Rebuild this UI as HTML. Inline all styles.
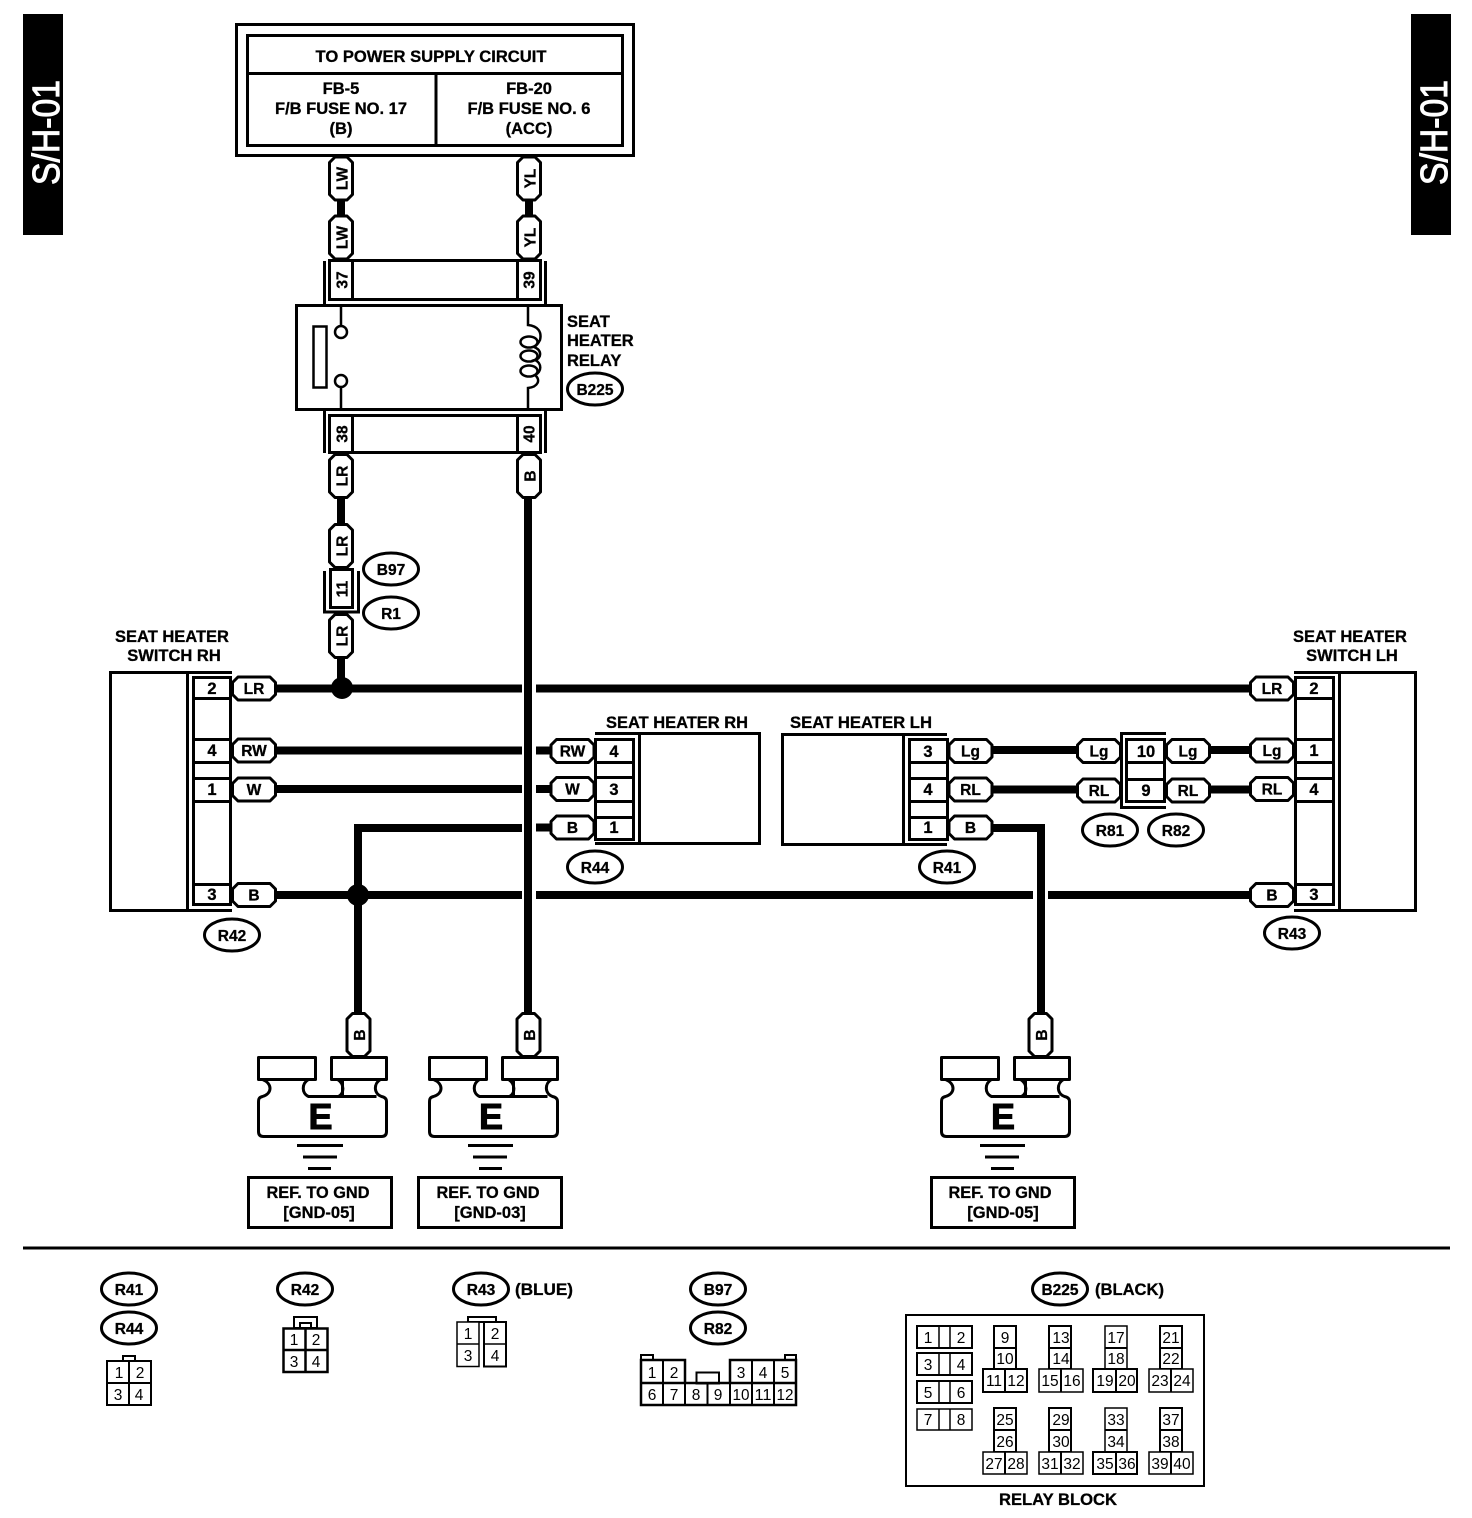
<!DOCTYPE html>
<html><head><meta charset="utf-8"><title>S/H-01</title>
<style>
html,body{margin:0;padding:0;background:#fff}
svg{display:block}
text{font-family:"Liberation Sans",sans-serif;fill:#000}
.t{font-weight:bold;font-size:16.5px;text-anchor:middle;stroke:#000;stroke-width:.3px}
.l{font-weight:bold;font-size:16.5px;stroke:#000;stroke-width:.3px}
.o{font-weight:bold;font-size:15.5px;text-anchor:middle;stroke:#000;stroke-width:.3px}
.n{font-size:15.5px;text-anchor:middle}
.s{fill:none;stroke:#000;stroke-width:3}
.f{fill:#fff;stroke:#000;stroke-width:3}
.g{fill:#fff;stroke:#000;stroke-width:2}
.h{fill:#fff;stroke:#000;stroke-width:1.5}
.w{fill:none;stroke:#000;stroke-width:8}
</style></head><body>
<svg width="1472" height="1518" viewBox="0 0 1472 1518" xmlns="http://www.w3.org/2000/svg">
<defs>
<polygon id="ph" points="-16,-11.5 16,-11.5 21.5,-6 21.5,6 16,11.5 -16,11.5 -21.5,6 -21.5,-6" fill="#fff" stroke="#000" stroke-width="3" stroke-linejoin="round"/>
<polygon id="pv" points="-11.5,-16 -6,-21.5 6,-21.5 11.5,-16 11.5,16 6,21.5 -6,21.5 -11.5,16" fill="#fff" stroke="#000" stroke-width="3" stroke-linejoin="round"/>
<ellipse id="ov" rx="27.5" ry="16" fill="#fff" stroke="#000" stroke-width="3"/>
<path id="gs" fill="none" stroke="#000" stroke-width="3" stroke-linejoin="round" d="M0 0H57V22H0ZM73 0H128V22H73ZM4 22C14 26 14 36 4 39C0 40 0 42 0 45V74Q0 79 5 79H123Q128 79 128 74V44Q128 40 123 39C115 36 115 26 122 22M50 22C43 26 43 36 50 39H118M79 22C86 26 86 36 80 39M84 22V39"/>
</defs>

<!-- side tabs -->
<rect x="23" y="14" width="40" height="221" fill="#000"/>
<text transform="translate(59,185) rotate(-90)" font-size="38" textLength="105" lengthAdjust="spacingAndGlyphs" style="fill:#fff;stroke:#fff;stroke-width:1px">S/H-01</text>
<rect x="1411" y="14" width="40" height="221" fill="#000"/>
<text transform="translate(1447,185) rotate(-90)" font-size="38" textLength="105" lengthAdjust="spacingAndGlyphs" style="fill:#fff;stroke:#fff;stroke-width:1px">S/H-01</text>

<!-- power box -->
<rect class="s" x="236.500" y="24.500" width="397" height="131"/>
<rect class="s" x="247.500" y="35.500" width="375" height="110"/>
<path class="s" d="M247 73.500H623M436 73V146"/>
<text class="t" x="431" y="62" textLength="231" lengthAdjust="spacingAndGlyphs">TO POWER SUPPLY CIRCUIT</text>
<text class="t" x="341" y="94">FB-5</text>
<text class="t" x="341" y="114" textLength="132" lengthAdjust="spacingAndGlyphs">F/B FUSE NO. 17</text>
<text class="t" x="341" y="134">(B)</text>
<text class="t" x="529" y="94">FB-20</text>
<text class="t" x="529" y="114" textLength="123" lengthAdjust="spacingAndGlyphs">F/B FUSE NO. 6</text>
<text class="t" x="529" y="134">(ACC)</text>

<!-- wires -->
<g class="w">
<path d="M341 195V222M529 195V222M341 495V530M341 655V690"/>
<path d="M528 495V1016"/>
<path d="M358 1016V828H522"/>
<path d="M275 688.500H522M536 688.500H1252"/>
<path d="M275 750.500H522M536 750.500H552"/>
<path d="M275 789H522M536 789H552"/>
<path d="M536 827.500H552"/>
<path d="M275 895H522M536 895H1033M1048 895H1252"/>
<path d="M990 828H1041V1016"/>
<path d="M990 750H1079M990 789.500H1079"/>
<path d="M1208 750H1252M1208 789.500H1252"/>
</g>
<circle cx="342" cy="688" r="11" fill="#000"/>
<circle cx="358" cy="895" r="11" fill="#000"/>

<!-- top pills -->
<use href="#pv" x="341" y="178.500"/><text class="o" transform="translate(342,178.500) rotate(-90)" y="5.500">LW</text>
<use href="#pv" x="341" y="237.500"/><text class="o" transform="translate(342,237.500) rotate(-90)" y="5.500">LW</text>
<use href="#pv" x="529" y="178.500"/><text class="o" transform="translate(530,178.500) rotate(-90)" y="5.500">YL</text>
<use href="#pv" x="529" y="237.500"/><text class="o" transform="translate(530,237.500) rotate(-90)" y="5.500">YL</text>

<!-- connector 37/39 -->
<rect class="f" x="329.500" y="260.500" width="211" height="39"/>
<path class="s" d="M352.500 260V300M517.500 260V300M324.500 261V305M545.500 261V305"/>
<text class="o" transform="translate(342,280) rotate(-90)" y="5.500">37</text>
<text class="o" transform="translate(529,280) rotate(-90)" y="5.500">39</text>

<!-- relay -->
<rect class="s" x="296.500" y="305.500" width="265" height="104"/>
<rect x="313.500" y="326.500" width="13" height="61" fill="#fff" stroke="#000" stroke-width="2.500"/>
<path d="M341 306V326M341 387V409" fill="none" stroke="#000" stroke-width="2.500"/>
<circle cx="341" cy="332" r="6" fill="#fff" stroke="#000" stroke-width="2.500"/>
<circle cx="341" cy="381" r="6" fill="#fff" stroke="#000" stroke-width="2.500"/>
<path fill="none" stroke="#000" stroke-width="2.500" d="M528 306V325C538 326 542 332 540 340C538 344 536 346 534 347C542 350 542 358 535 360C542 363 542 372 535 375C541 380 538 387 528 388V409"/>
<ellipse cx="529" cy="342" rx="8.500" ry="5.500" fill="none" stroke="#000" stroke-width="2.500"/>
<ellipse cx="529" cy="356" rx="8.500" ry="5.500" fill="none" stroke="#000" stroke-width="2.500"/>
<ellipse cx="529" cy="371" rx="8.500" ry="5.500" fill="none" stroke="#000" stroke-width="2.500"/>
<text class="l" x="567" y="327">SEAT</text>
<text class="l" x="567" y="346">HEATER</text>
<text class="l" x="567" y="366">RELAY</text>
<use href="#ov" x="595" y="389"/><text class="o" x="595" y="395">B225</text>

<!-- connector 38/40 -->
<rect class="f" x="329.500" y="415.500" width="211" height="37"/>
<path class="s" d="M352.500 415V453M517.500 415V453M324.500 411V453M545.500 411V453"/>
<text class="o" transform="translate(342,434) rotate(-90)" y="5.500">38</text>
<text class="o" transform="translate(529,434) rotate(-90)" y="5.500">40</text>

<use href="#pv" x="341" y="476"/><text class="o" transform="translate(342,476) rotate(-90)" y="5.500">LR</text>
<use href="#pv" x="529" y="476"/><text class="o" transform="translate(530,476) rotate(-90)" y="5.500">B</text>

<use href="#pv" x="341" y="546"/><text class="o" transform="translate(342,546) rotate(-90)" y="5.500">LR</text>
<rect class="f" x="330.500" y="569.500" width="22" height="38"/>
<path class="s" d="M324.500 571V612H358.500V571"/>
<text class="o" transform="translate(342,589) rotate(-90)" y="5.500">11</text>
<use href="#pv" x="341" y="636"/><text class="o" transform="translate(342,636) rotate(-90)" y="5.500">LR</text>
<use href="#ov" x="391" y="569"/><text class="o" x="391" y="575">B97</text>
<use href="#ov" x="391" y="613"/><text class="o" x="391" y="619">R1</text>

<!-- switch RH -->
<text class="t" x="172" y="642">SEAT HEATER</text>
<text class="t" x="174" y="661">SWITCH RH</text>
<path class="s" d="M232 672.500H110.500V910.500H232M187.500 672V911"/>
<rect class="s" x="193.500" y="677.500" width="37" height="227"/>
<path class="s" d="M193 698.500H231M193 739.500H231M193 762.500H231M193 778.500H231M193 801.500H231M193 884.500H231"/>
<text class="t" x="212" y="694">2</text><text class="t" x="212" y="756">4</text><text class="t" x="212" y="795">1</text><text class="t" x="212" y="900">3</text>
<use href="#ph" x="254" y="688.500"/><text class="o" x="254" y="694">LR</text>
<use href="#ph" x="254" y="750.500"/><text class="o" x="254" y="756">RW</text>
<use href="#ph" x="254" y="789.500"/><text class="o" x="254" y="795">W</text>
<use href="#ph" x="254" y="895"/><text class="o" x="254" y="900.500">B</text>
<use href="#ov" x="232" y="935"/><text class="o" x="232" y="941">R42</text>

<!-- switch LH -->
<text class="t" x="1350" y="642">SEAT HEATER</text>
<text class="t" x="1352" y="661">SWITCH LH</text>
<path class="s" d="M1294 672.500H1415.500V910.500H1294M1339.500 672V911"/>
<rect class="s" x="1295.500" y="677.500" width="38" height="227"/>
<path class="s" d="M1295 698.500H1334M1295 739.500H1334M1295 762.500H1334M1295 778.500H1334M1295 801.500H1334M1295 884.500H1334"/>
<text class="t" x="1314" y="694">2</text><text class="t" x="1314" y="756">1</text><text class="t" x="1314" y="795">4</text><text class="t" x="1314" y="900">3</text>
<use href="#ph" x="1272" y="688.500"/><text class="o" x="1272" y="694">LR</text>
<use href="#ph" x="1272" y="750.500"/><text class="o" x="1272" y="756">Lg</text>
<use href="#ph" x="1272" y="789"/><text class="o" x="1272" y="794.500">RL</text>
<use href="#ph" x="1272" y="895"/><text class="o" x="1272" y="900.500">B</text>
<use href="#ov" x="1292" y="933"/><text class="o" x="1292" y="939">R43</text>

<!-- seat heater RH -->
<text class="t" x="677" y="728" textLength="142" lengthAdjust="spacingAndGlyphs">SEAT HEATER RH</text>
<path class="s" d="M595 733.500H759.500V843.500H595M639.500 733V844"/>
<rect class="s" x="595.500" y="739.500" width="38" height="100"/>
<path class="s" d="M595 762.500H634M595 777.500H634M595 801.500H634M595 817.500H634"/>
<text class="t" x="614" y="757">4</text><text class="t" x="614" y="795">3</text><text class="t" x="614" y="833">1</text>
<use href="#ph" x="572.500" y="751"/><text class="o" x="572.500" y="756.500">RW</text>
<use href="#ph" x="572.500" y="789"/><text class="o" x="572.500" y="794.500">W</text>
<use href="#ph" x="572.500" y="827.500"/><text class="o" x="572.500" y="833">B</text>
<use href="#ov" x="595" y="867"/><text class="o" x="595" y="873">R44</text>

<!-- seat heater LH -->
<text class="t" x="861" y="728" textLength="142" lengthAdjust="spacingAndGlyphs">SEAT HEATER LH</text>
<path class="s" d="M947 734.500H782.500V844.500H947M903.500 734V845"/>
<rect class="s" x="909.500" y="739.500" width="38" height="100"/>
<path class="s" d="M909 762.500H948M909 778.500H948M909 801.500H948M909 817.500H948"/>
<text class="t" x="928" y="757">3</text><text class="t" x="928" y="795">4</text><text class="t" x="928" y="833">1</text>
<use href="#ph" x="970.500" y="751"/><text class="o" x="970.500" y="756.500">Lg</text>
<use href="#ph" x="970.500" y="789.500"/><text class="o" x="970.500" y="795">RL</text>
<use href="#ph" x="970.500" y="827.500"/><text class="o" x="970.500" y="833">B</text>
<use href="#ov" x="947" y="867"/><text class="o" x="947" y="873">R41</text>

<!-- R81/R82 -->
<path class="s" d="M1166 733.500H1121.500V807.500H1166"/>
<rect class="s" x="1126.500" y="739.500" width="38" height="62"/>
<path class="s" d="M1126 762.500H1165M1126 779.500H1165"/>
<text class="t" x="1146" y="757">10</text><text class="t" x="1146" y="796">9</text>
<use href="#ph" x="1099" y="751"/><text class="o" x="1099" y="756.500">Lg</text>
<use href="#ph" x="1099" y="790.500"/><text class="o" x="1099" y="796">RL</text>
<use href="#ph" x="1188" y="751"/><text class="o" x="1188" y="756.500">Lg</text>
<use href="#ph" x="1188" y="790.500"/><text class="o" x="1188" y="796">RL</text>
<use href="#ov" x="1110" y="830"/><text class="o" x="1110" y="836">R81</text>
<use href="#ov" x="1176" y="830"/><text class="o" x="1176" y="836">R82</text>

<!-- grounds -->
<use href="#pv" x="358.500" y="1035"/><text class="o" transform="translate(359.500,1035) rotate(-90)" y="5.500">B</text>
<use href="#pv" x="528.500" y="1035"/><text class="o" transform="translate(529.500,1035) rotate(-90)" y="5.500">B</text>
<use href="#pv" x="1040.500" y="1035"/><text class="o" transform="translate(1041.500,1035) rotate(-90)" y="5.500">B</text>

<use href="#gs" x="258.500" y="1057.500"/>
<use href="#gs" x="429.500" y="1057.500"/>
<use href="#gs" x="941.500" y="1057.500"/>
<text x="320.500" y="1129" font-size="36" font-weight="bold" text-anchor="middle" stroke="#000" stroke-width="1">E</text>
<text x="491" y="1129" font-size="36" font-weight="bold" text-anchor="middle" stroke="#000" stroke-width="1">E</text>
<text x="1003" y="1129" font-size="36" font-weight="bold" text-anchor="middle" stroke="#000" stroke-width="1">E</text>
<path class="s" d="M297 1145.500H343M303 1157H337M308 1168.500H331"/>
<path class="s" d="M468 1145.500H513M473 1157H507M479 1168.500H502"/>
<path class="s" d="M980 1145.500H1025M985 1157H1019M991 1168.500H1014"/>
<rect class="s" x="248.500" y="1177.500" width="143" height="50"/>
<rect class="s" x="418.500" y="1177.500" width="143" height="50"/>
<rect class="s" x="931.500" y="1177.500" width="143" height="50"/>
<text class="t" x="318" y="1198" textLength="103" lengthAdjust="spacingAndGlyphs">REF. TO GND</text><text class="t" x="319" y="1218">[GND-05]</text>
<text class="t" x="488" y="1198" textLength="103" lengthAdjust="spacingAndGlyphs">REF. TO GND</text><text class="t" x="490" y="1218">[GND-03]</text>
<text class="t" x="1000" y="1198" textLength="103" lengthAdjust="spacingAndGlyphs">REF. TO GND</text><text class="t" x="1003" y="1218">[GND-05]</text>

<!-- divider -->
<path class="s" d="M23 1248H1450"/>

<!-- R41/R44 -->
<use href="#ov" x="129" y="1289"/><text class="o" x="129" y="1295">R41</text>
<use href="#ov" x="129" y="1328"/><text class="o" x="129" y="1334">R44</text>
<rect class="g" x="123" y="1356" width="12" height="5"/>
<rect class="g" x="107" y="1361" width="44" height="44"/>
<path class="g" d="M107 1383H151M129 1361V1405"/>
<text class="n" x="119" y="1378">1</text><text class="n" x="140" y="1378">2</text><text class="n" x="118" y="1400">3</text><text class="n" x="139" y="1400">4</text>

<!-- R42 -->
<use href="#ov" x="305" y="1289"/><text class="o" x="305" y="1295">R42</text>
<rect class="g" x="294" y="1317" width="23" height="11"/>
<rect class="g" x="300" y="1323" width="11" height="5"/>
<rect x="283.500" y="1328.500" width="44" height="43.500" fill="#fff" stroke="#000" stroke-width="2.500"/>
<path fill="none" stroke="#000" stroke-width="2.500" d="M283 1350H328M305.500 1328V1372"/>
<text class="n" x="294" y="1345">1</text><text class="n" x="316" y="1345">2</text><text class="n" x="294" y="1367">3</text><text class="n" x="316" y="1367">4</text>

<!-- R43 -->
<use href="#ov" x="481" y="1289"/><text class="o" x="481" y="1295">R43</text>
<text class="l" x="515" y="1295" textLength="58" lengthAdjust="spacingAndGlyphs">(BLUE)</text>
<rect class="g" x="468" y="1317" width="28" height="5"/>
<rect class="h" x="457" y="1322" width="22" height="44.500"/>
<rect class="g" x="484" y="1322" width="22" height="44.500"/>
<path class="h" d="M457 1344H479M484 1344H506"/>
<text class="n" x="468" y="1339">1</text><text class="n" x="495" y="1339">2</text><text class="n" x="468" y="1361">3</text><text class="n" x="495" y="1361">4</text>

<!-- B97/R82 -->
<use href="#ov" x="718" y="1289"/><text class="o" x="718" y="1295">B97</text>
<use href="#ov" x="718" y="1328"/><text class="o" x="718" y="1334">R82</text>
<rect class="g" x="641" y="1355" width="12" height="5"/>
<rect class="g" x="785" y="1355" width="11" height="5"/>
<rect class="g" x="696.500" y="1372.500" width="22.500" height="11"/>
<path d="M641 1383V1360H685V1383M730 1383V1360H796V1383M641 1383H796V1405H641Z" fill="none" stroke="#000" stroke-width="2.500"/>
<path class="g" d="M663 1360V1405M685 1383V1405M707.500 1383V1405M752 1360V1405M774 1360V1405"/>
<path class="g" d="M730 1383V1405"/>
<g class="n">
<text class="n" x="652" y="1378">1</text><text class="n" x="674" y="1378">2</text><text class="n" x="741" y="1378">3</text><text class="n" x="763" y="1378">4</text><text class="n" x="785" y="1378">5</text>
<text class="n" x="652" y="1400">6</text><text class="n" x="674" y="1400">7</text><text class="n" x="696" y="1400">8</text><text class="n" x="718" y="1400">9</text><text class="n" x="741" y="1400" textLength="17" lengthAdjust="spacingAndGlyphs">10</text><text class="n" x="763" y="1400" textLength="17" lengthAdjust="spacingAndGlyphs">11</text><text class="n" x="785" y="1400" textLength="17" lengthAdjust="spacingAndGlyphs">12</text>
</g>

<!-- B225 relay block -->
<use href="#ov" x="1060" y="1289"/><text class="o" x="1060" y="1295">B225</text>
<text class="l" x="1095" y="1295" textLength="69" lengthAdjust="spacingAndGlyphs">(BLACK)</text>
<rect class="g" x="906" y="1315" width="298" height="171"/>
<text class="t" x="1058" y="1505" textLength="118" lengthAdjust="spacingAndGlyphs">RELAY BLOCK</text>

<g fill="#fff" stroke="#000" stroke-width="2">
<rect x="917" y="1326" width="55" height="22"/><rect x="917" y="1353" width="55" height="22"/><rect x="917" y="1381" width="55" height="22"/><rect x="917" y="1409" width="55" height="21" stroke-width="1.500"/>
<path d="M939 1326V1348M950 1326V1348M939 1353V1375M950 1353V1375M939 1381V1403M950 1381V1403M939 1409V1430M950 1409V1430" stroke-width="1.500"/>

<rect x="994" y="1326" width="22" height="43"/><rect x="983" y="1369" width="44" height="23"/><path d="M994 1348H1016M1005 1369V1392"/>
<rect x="1049" y="1326" width="22" height="43"/><rect x="1039" y="1369" width="44" height="23" stroke-width="1.500"/><path d="M1049 1348H1071M1061 1369V1392"/>
<rect x="1105" y="1326" width="22" height="43" stroke-width="1.500"/><rect x="1093" y="1369" width="44" height="23"/><path d="M1105 1348H1127M1116 1369V1392"/>
<rect x="1160" y="1326" width="22" height="43"/><rect x="1149" y="1369" width="44" height="23" stroke-width="1.500"/><path d="M1160 1348H1182M1171 1369V1392"/>

<rect x="994" y="1408" width="22" height="44"/><rect x="983" y="1452" width="44" height="22" stroke-width="1.500"/><path d="M994 1430H1016M1005 1452V1474"/>
<rect x="1049" y="1408" width="22" height="44"/><rect x="1039" y="1452" width="44" height="22" stroke-width="1.500"/><path d="M1049 1430H1071M1061 1452V1474"/>
<rect x="1105" y="1408" width="22" height="44" stroke-width="1.500"/><rect x="1093" y="1452" width="44" height="22"/><path d="M1105 1430H1127M1116 1452V1474"/>
<rect x="1160" y="1408" width="22" height="44"/><rect x="1149" y="1452" width="44" height="22" stroke-width="1.500"/><path d="M1160 1430H1182M1171 1452V1474"/>
</g>

<text class="n" x="928" y="1343">1</text><text class="n" x="961" y="1343">2</text><text class="n" x="928" y="1370">3</text><text class="n" x="961" y="1370">4</text><text class="n" x="928" y="1398">5</text><text class="n" x="961" y="1398">6</text><text class="n" x="928" y="1425">7</text><text class="n" x="961" y="1425">8</text>

<text class="n" x="1005" y="1343">9</text><text class="n" x="1005" y="1364">10</text><text class="n" x="994" y="1386">11</text><text class="n" x="1016" y="1386">12</text>
<text class="n" x="1061" y="1343">13</text><text class="n" x="1061" y="1364">14</text><text class="n" x="1050" y="1386">15</text><text class="n" x="1072" y="1386">16</text>
<text class="n" x="1116" y="1343">17</text><text class="n" x="1116" y="1364">18</text><text class="n" x="1105" y="1386">19</text><text class="n" x="1127" y="1386">20</text>
<text class="n" x="1171" y="1343">21</text><text class="n" x="1171" y="1364">22</text><text class="n" x="1160" y="1386">23</text><text class="n" x="1182" y="1386">24</text>

<text class="n" x="1005" y="1425">25</text><text class="n" x="1005" y="1447">26</text><text class="n" x="994" y="1469">27</text><text class="n" x="1016" y="1469">28</text>
<text class="n" x="1061" y="1425">29</text><text class="n" x="1061" y="1447">30</text><text class="n" x="1050" y="1469">31</text><text class="n" x="1072" y="1469">32</text>
<text class="n" x="1116" y="1425">33</text><text class="n" x="1116" y="1447">34</text><text class="n" x="1105" y="1469">35</text><text class="n" x="1127" y="1469">36</text>
<text class="n" x="1171" y="1425">37</text><text class="n" x="1171" y="1447">38</text><text class="n" x="1160" y="1469">39</text><text class="n" x="1182" y="1469">40</text>
</svg>
</body></html>
